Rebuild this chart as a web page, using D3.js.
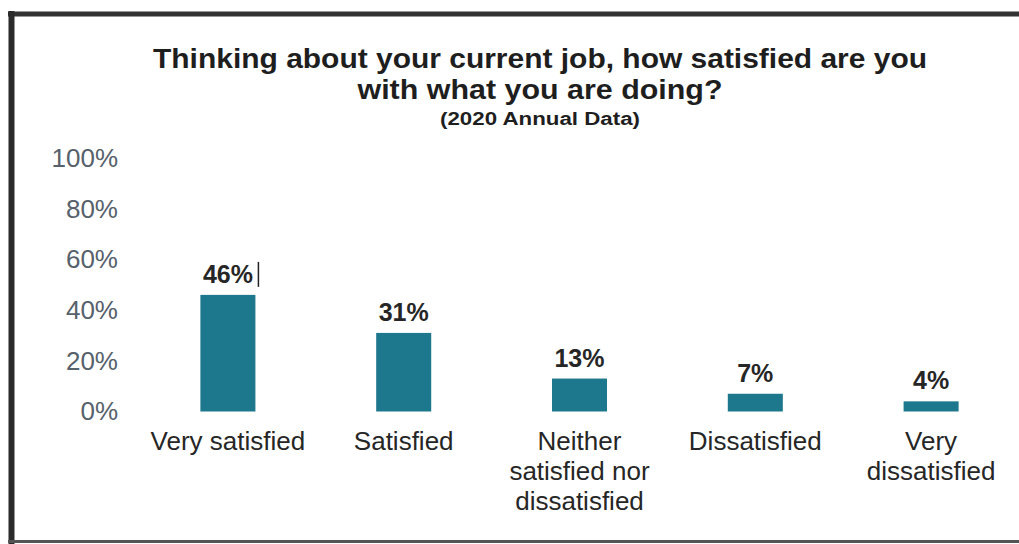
<!DOCTYPE html>
<html>
<head>
<meta charset="utf-8">
<script src="https://cdn.jsdelivr.net/npm/d3@7"></script>
<style>
  html, body { margin: 0; padding: 0; background: #fff; }
  svg { display: block; }
</style>
</head>
<body>
<svg id="chart" width="1019" height="544"></svg>
<script>
const categories = [
  ["Very satisfied"],
  ["Satisfied"],
  ["Neither", "satisfied nor", "dissatisfied"],
  ["Dissatisfied"],
  ["Very", "dissatisfied"]
];
const values = [46, 31, 13, 7, 4];
const valueLabels = ["46%", "31%", "13%", "7%", "4%"];
const yTicks = [0, 20, 40, 60, 80, 100];
const titleLines = ["Thinking about your current job, how satisfied are you", "with what you are doing?"];
const subtitle = "(2020 Annual Data)";

const W = 1019, H = 544;
const svg = d3.select("#chart");
const font = "'Liberation Sans', Arial, Helvetica, sans-serif";

// frame (scanned border)
svg.append("line").attr("x1", 8).attr("x2", W).attr("y1", 14).attr("y2", 14)
  .attr("stroke", "#333").attr("stroke-width", 5);
svg.append("line").attr("x1", 11.5).attr("x2", 11.5).attr("y1", 11).attr("y2", H)
  .attr("stroke", "#2b2b2b").attr("stroke-width", 6);
svg.append("line").attr("x1", 8).attr("x2", W).attr("y1", 541.5).attr("y2", 541.5)
  .attr("stroke", "#555").attr("stroke-width", 3);

const idx = values.map((d, i) => i);
const x = d3.scaleBand().domain(idx).range([140, 1019]).paddingInner(0.687).paddingOuter(0.3435);
const y = d3.scaleLinear().domain([0, 100]).range([411.5, 158]);

// title
const titleW = [774, 365];
const titleY = [68, 99];
titleLines.forEach((t, i) => {
  svg.append("text").attr("x", 540).attr("y", titleY[i]).attr("text-anchor", "middle")
    .attr("font-family", font).attr("font-weight", "bold").attr("font-size", 28)
    .attr("fill", "#1e1e1e")
    .attr("textLength", titleW[i]).attr("lengthAdjust", "spacingAndGlyphs")
    .text(t);
});
svg.append("text").attr("x", 540).attr("y", 125).attr("text-anchor", "middle")
  .attr("font-family", font).attr("font-weight", "bold").attr("font-size", 18)
  .attr("fill", "#1e1e1e").attr("textLength", 200).attr("lengthAdjust", "spacingAndGlyphs")
  .text(subtitle);

// y axis (labels only)
const yAxis = d3.axisLeft(y).tickValues(yTicks).tickFormat(d => d + "%").tickSize(0).tickPadding(0);
const gy = svg.append("g").attr("transform", "translate(118,0)").call(yAxis);
gy.select(".domain").remove();
gy.selectAll("text").attr("font-family", font).attr("font-size", 26).attr("fill", "#56616b");

// bars
svg.append("g").selectAll("rect").data(values).join("rect")
  .attr("x", (d, i) => x(i)).attr("width", x.bandwidth())
  .attr("y", d => y(d)).attr("height", d => y(0) - y(d))
  .attr("fill", "#1d788d");

// value labels
svg.append("g").selectAll("text").data(values).join("text")
  .attr("x", (d, i) => x(i) + x.bandwidth() / 2)
  .attr("y", d => y(d) - 12)
  .attr("text-anchor", "middle")
  .attr("font-family", font).attr("font-weight", "bold").attr("font-size", 25)
  .attr("fill", "#262626")
  .text((d, i) => valueLabels[i]);

// cursor artifact after first label
svg.append("line").attr("x1", x(0) + x.bandwidth() + 3).attr("x2", x(0) + x.bandwidth() + 3)
  .attr("y1", y(values[0]) - 33).attr("y2", y(values[0]) - 8)
  .attr("stroke", "#222").attr("stroke-width", 1.5);

// category labels
const cg = svg.append("g");
categories.forEach((lines, i) => {
  const t = cg.append("text").attr("text-anchor", "middle")
    .attr("font-family", font).attr("font-size", 26).attr("fill", "#262626");
  lines.forEach((ln, j) => {
    t.append("tspan").attr("x", x(i) + x.bandwidth() / 2).attr("y", 450 + j * 30).text(ln);
  });
});
</script>
</body>
</html>
